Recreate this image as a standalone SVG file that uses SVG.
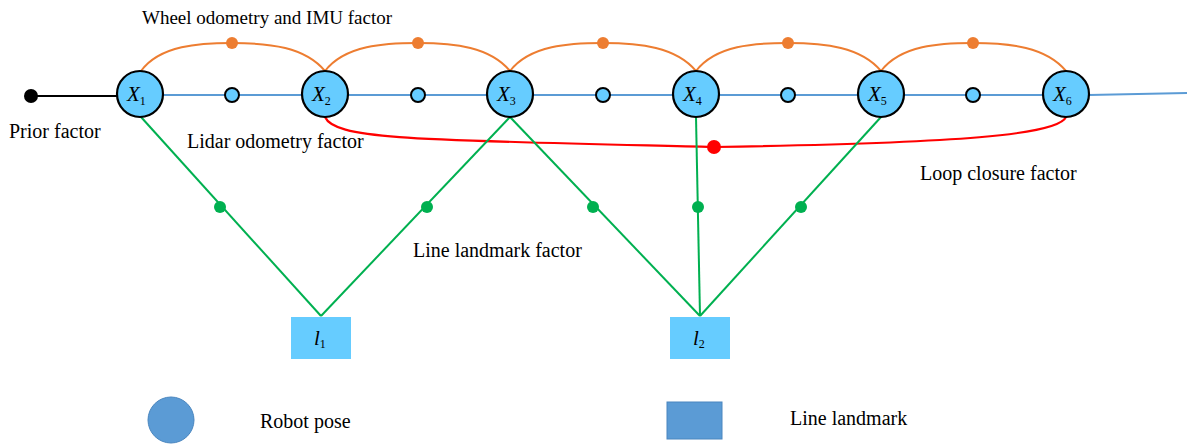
<svg xmlns="http://www.w3.org/2000/svg" width="1188" height="446" viewBox="0 0 1188 446">
<style>
.lbl{font-family:"Liberation Serif",serif;font-size:20px;fill:#000}
.nl{font-family:"Liberation Serif",serif;font-style:italic;font-size:21px;fill:#000}
.sub{font-size:12px;font-style:normal}
.pose{fill:#66ccff;stroke:#000;stroke-width:2.2}
.small{fill:#66ccff;stroke:#000;stroke-width:2}
.odo{fill:none;stroke:#ed7d31;stroke-width:2}
.od{fill:#ed7d31}
.gr{stroke:#00b050;stroke-width:2;fill:none}
.gd{fill:#00b050}
.lm{fill:#66ccff}
</style>
<rect width="1188" height="446" fill="#fff"/>
<g id="connectors">
<line x1="31" y1="96" x2="118" y2="96" stroke="#000" stroke-width="2"/>
<path d="M163 95 L1089 95 L1187 93" stroke="#5b9bd5" stroke-width="2" fill="none"/>
<path class="odo" d="M141 71 C160 45 200 43 232 43 C270 43 305 47 325 71"/>
<path class="odo" d="M325 71 C345 45 385 43 418 43 C455 43 490 47 510 71"/>
<path class="odo" d="M510 71 C530 45 570 43 603 43 C640 43 676 47 696 71"/>
<path class="odo" d="M696 71 C716 45 755 43 788 43 C825 43 861 47 881 71"/>
<path class="odo" d="M881 71 C901 45 940 43 973 43 C1010 43 1046 47 1066 71"/>
<path d="M325 117 C335 140 420 140 714 147 C960 143 1058 135 1066 117" stroke="#ff0000" stroke-width="2.2" fill="none"/>
<line class="gr" x1="141" y1="117" x2="321" y2="316"/>
<line class="gr" x1="510" y1="117" x2="321" y2="316"/>
<line class="gr" x1="510" y1="117" x2="700" y2="316"/>
<line class="gr" x1="696" y1="117" x2="700" y2="316"/>
<line class="gr" x1="881" y1="117" x2="700" y2="316"/>
<circle cx="31" cy="96" r="7" fill="#000"/>
<circle class="od" cx="232" cy="43" r="6"/>
<circle class="od" cx="418" cy="43" r="6"/>
<circle class="od" cx="603" cy="43" r="6"/>
<circle class="od" cx="788" cy="43" r="6"/>
<circle class="od" cx="973" cy="43" r="6"/>
<circle cx="714" cy="147" r="7" fill="#ff0000"/>
<circle class="gd" cx="220" cy="207" r="6"/>
<circle class="gd" cx="427" cy="207" r="6"/>
<circle class="gd" cx="593" cy="207" r="6"/>
<circle class="gd" cx="698" cy="207" r="6"/>
<circle class="gd" cx="801" cy="207" r="6"/>
<circle class="small" cx="232" cy="95" r="7"/>
<circle class="small" cx="418" cy="95" r="7"/>
<circle class="small" cx="603" cy="95" r="7"/>
<circle class="small" cx="788" cy="95" r="7"/>
<circle class="small" cx="973" cy="95" r="7"/>
</g>
<g id="x1"><circle class="pose" cx="140" cy="94" r="23"/><text class="nl" x="127" y="101">X<tspan class="sub" dy="4">1</tspan></text></g>
<g id="x2"><circle class="pose" cx="325" cy="94" r="23"/><text class="nl" x="312" y="101">X<tspan class="sub" dy="4">2</tspan></text></g>
<g id="x3"><circle class="pose" cx="510" cy="94" r="23"/><text class="nl" x="497" y="101">X<tspan class="sub" dy="4">3</tspan></text></g>
<g id="x4"><circle class="pose" cx="696" cy="94" r="23"/><text class="nl" x="683" y="101">X<tspan class="sub" dy="4">4</tspan></text></g>
<g id="x5"><circle class="pose" cx="881" cy="94" r="23"/><text class="nl" x="868" y="101">X<tspan class="sub" dy="4">5</tspan></text></g>
<g id="x6"><circle class="pose" cx="1066" cy="94" r="23"/><text class="nl" x="1053" y="101">X<tspan class="sub" dy="4">6</tspan></text></g>
<g id="l1"><rect class="lm" x="291" y="317" width="60" height="42"/><text class="nl" x="314" y="345">l<tspan class="sub" dy="3">1</tspan></text></g>
<g id="l2"><rect class="lm" x="670" y="317" width="60" height="42"/><text class="nl" x="693" y="345">l<tspan class="sub" dy="3">2</tspan></text></g>
<g id="legend-pose"><circle cx="171" cy="420" r="23" fill="#5b9bd5" stroke="#4a86bf" stroke-width="1"/><text class="lbl" x="260" y="428">Robot pose</text></g>
<g id="legend-landmark"><rect x="667" y="402" width="55" height="37" fill="#5b9bd5" stroke="#4a86bf" stroke-width="1"/><text class="lbl" x="790" y="425">Line landmark</text></g>
<g id="labels">
<text class="lbl" x="142" y="24" style="font-size:19px">Wheel odometry and IMU factor</text>
<text class="lbl" x="9" y="138">Prior factor</text>
<text class="lbl" x="187" y="148">Lidar odometry factor</text>
<text class="lbl" x="920" y="180">Loop closure factor</text>
<text class="lbl" x="413" y="257">Line landmark factor</text>
</g>
</svg>
